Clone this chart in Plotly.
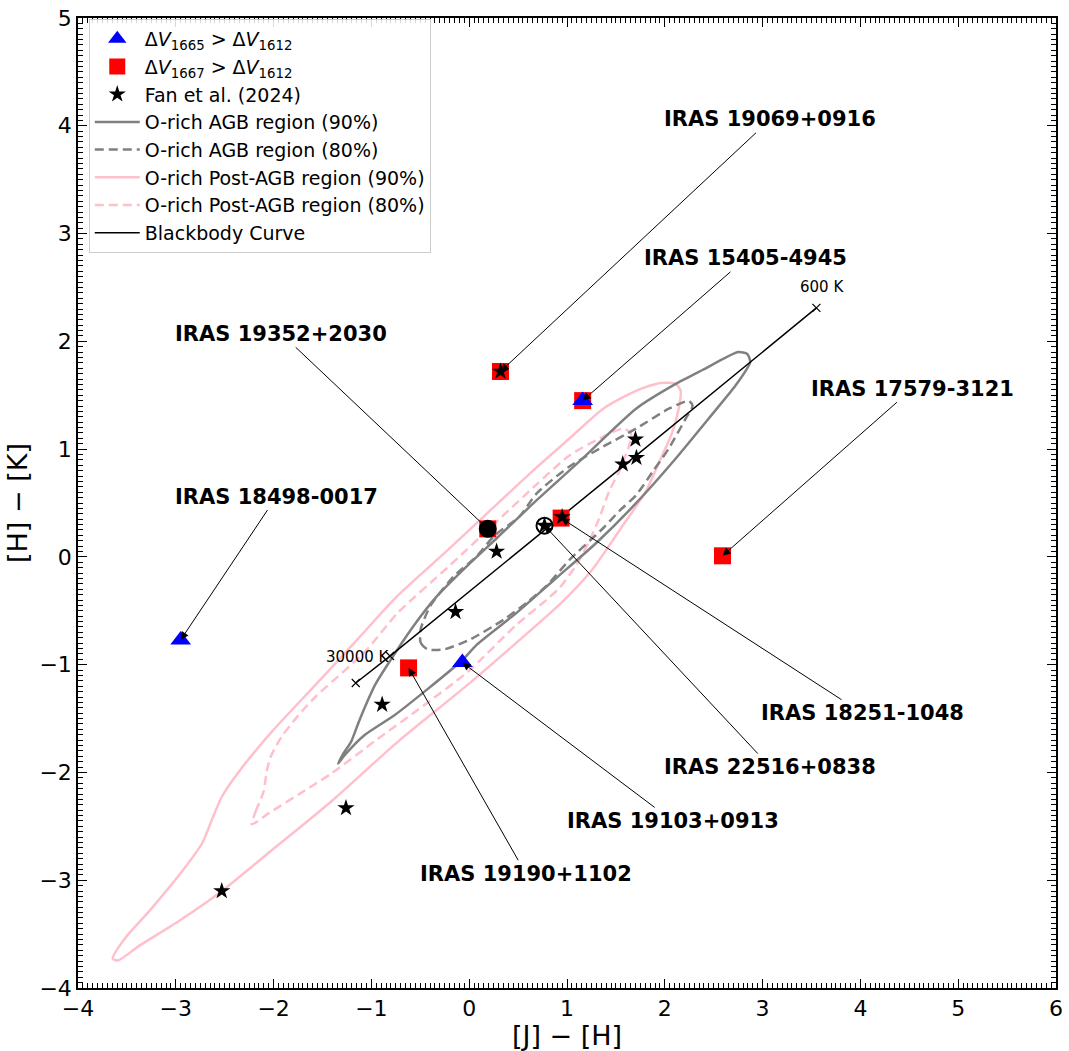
import plotly.graph_objects as go

# ---------------- data ----------------
tri_x = [-2.95, 1.16, -0.07]
tri_y = [-0.77, 1.45, -0.98]

sq_x = [0.32, 1.16, 2.59, -0.62, 0.94, 0.19]
sq_y = [1.72, 1.45, 0.01, -1.03, 0.36, 0.26]

star_x = [0.32, 1.70, 1.57, 1.71, 0.95, 0.77, 0.19, 0.28, -0.14, -0.89, -1.26, -2.53]
star_y = [1.72, 1.09, 0.86, 0.92, 0.37, 0.29, 0.26, 0.05, -0.51, -1.37, -2.33, -3.10]

filled_circle_x = [0.19]
filled_circle_y = [0.26]
open_circle_x = [0.77]
open_circle_y = [0.29]

# O-rich AGB region (90%)
agb90_x = [-1.340, -1.289, -1.208, -1.137, -1.066, -0.964, -0.832, -0.558, -0.325, -0.020,
           0.284, 0.690, 1.127, 1.706, 2.112, 2.386, 2.751, 2.843, 2.873, 2.721,
           2.447, 2.112, 1.706, 1.299, 0.893, 0.487, 0.081, -0.071, -0.426, -0.761,
           -1.066, -1.269, -1.340]
agb90_y = [-1.919, -1.827, -1.716, -1.550, -1.393, -1.190, -0.996, -0.627, -0.360, -0.083,
           0.175, 0.526, 0.886, 1.375, 1.605, 1.734, 1.900, 1.882, 1.808, 1.587,
           1.282, 0.913, 0.498, 0.129, -0.194, -0.517, -0.812, -0.959, -1.227, -1.467,
           -1.651, -1.836, -1.919]

# O-rich AGB region (80%)
agb80_x = [-0.497, -0.497, -0.426, -0.254, 0.010, 0.355, 0.589, 0.792, 1.025, 1.371,
           1.533, 1.706, 1.878, 2.041, 2.213, 2.284, 2.244, 2.041, 1.706, 1.371,
           1.025, 0.690, 0.518, 0.254, 0.081, -0.152, -0.396, -0.497]
agb80_y = [-0.673, -0.793, -0.858, -0.858, -0.766, -0.581, -0.424, -0.267, -0.028, 0.268,
           0.424, 0.572, 0.793, 1.006, 1.282, 1.402, 1.448, 1.375, 1.190, 1.024,
           0.839, 0.590, 0.378, 0.194, 0.009, -0.175, -0.452, -0.673]

# O-rich Post-AGB region (90%)
pagb90_x = [-3.645, -3.523, -3.269, -2.934, -2.731, -2.629, -2.528, -2.355, -2.020, -1.574,
            -1.137, -0.731, -0.223, 0.284, 0.690, 1.025, 1.371, 1.706, 1.959, 2.112,
            2.162, 2.142, 2.071, 1.959, 1.807, 1.553, 1.249, 0.944, 0.487, -0.020,
            -0.731, -1.411, -2.081, -2.528, -2.964, -3.371, -3.594, -3.645]
pagb90_y = [-3.727, -3.542, -3.284, -2.915, -2.657, -2.435, -2.223, -1.993, -1.624, -1.190,
            -0.760, -0.360, 0.060, 0.490, 0.830, 1.098, 1.375, 1.541, 1.614, 1.605,
            1.541, 1.375, 1.144, 0.913, 0.609, 0.268, -0.129, -0.424, -0.793, -1.190,
            -1.716, -2.269, -2.768, -3.100, -3.376, -3.607, -3.745, -3.727]

# O-rich Post-AGB region (80%)
pagb80_x = [-2.223, -2.183, -2.102, -2.071, -2.030, -1.919, -1.746, -1.574, -1.066, -0.731,
            -0.223, 0.284, 0.690, 1.025, 1.371, 1.574, 1.655, 1.635, 1.533, 1.431,
            1.330, 1.228, 1.096, 0.924, 0.792, 0.487, -0.020, -0.528, -0.934, -1.411,
            -1.746, -2.051, -2.223]
pagb80_y = [-2.482, -2.362, -2.177, -1.993, -1.854, -1.670, -1.470, -1.300, -0.880, -0.520,
            -0.100, 0.330, 0.673, 0.941, 1.116, 1.190, 1.144, 1.033, 0.793, 0.609,
            0.360, 0.148, -0.074, -0.286, -0.397, -0.627, -1.070, -1.421, -1.688, -2.011,
            -2.205, -2.380, -2.482]

# Blackbody curve
bb_x = [-1.16, -0.81, 0.95, 1.60, 3.55]
bb_y = [-1.17, -0.92, 0.38, 0.86, 2.31]
bb_mark_x = [-1.16, -0.81, 3.55]
bb_mark_y = [-1.17, -0.92, 2.31]
bb_labels = ["30000 K", "600 K"]
bb_label_x = [-0.80, 3.61]
bb_label_y = [-0.93, 2.50]

# annotations
ann_labels = ["IRAS 19069+0916", "IRAS 15405-4945", "IRAS 19352+2030", "IRAS 17579-3121",
              "IRAS 18498-0017", "IRAS 18251-1048", "IRAS 22516+0838", "IRAS 19103+0913",
              "IRAS 19190+1102"]
ann_px = [0.32, 1.16, 0.19, 2.59, -2.95, 0.94, 0.77, -0.07, -0.62]
ann_py = [1.72, 1.45, 0.26, 0.01, -0.77, 0.36, 0.29, -0.98, -1.03]
ann_tx = [3.08, 2.83, -1.92, 4.53, -1.97, 4.02, 3.08, 2.08, 0.58]
ann_ty = [4.06, 2.77, 2.07, 1.56, 0.56, -1.45, -1.95, -2.45, -2.94]

FONT = "DejaVu Sans"

fig = go.Figure()

# contours
fig.add_trace(go.Scatter(x=pagb90_x, y=pagb90_y, mode="lines", name="O-rich Post-AGB region (90%)",
                         line=dict(color="pink", width=2.5, shape="spline", smoothing=0.7), legendrank=6))
fig.add_trace(go.Scatter(x=pagb80_x, y=pagb80_y, mode="lines", name="O-rich Post-AGB region (80%)",
                         line=dict(color="pink", width=2.5, dash="9px,5px", shape="spline", smoothing=0.7),
                         legendrank=7))
fig.add_trace(go.Scatter(x=agb90_x, y=agb90_y, mode="lines", name="O-rich AGB region (90%)",
                         line=dict(color="gray", width=2.5, shape="spline", smoothing=0.6), legendrank=4))
fig.add_trace(go.Scatter(x=agb80_x, y=agb80_y, mode="lines", name="O-rich AGB region (80%)",
                         line=dict(color="gray", width=2.5, dash="9px,5px", shape="spline", smoothing=0.6),
                         legendrank=5))

# blackbody
fig.add_trace(go.Scatter(x=bb_x, y=bb_y, mode="lines", name="Blackbody Curve",
                         line=dict(color="black", width=1.5), legendrank=8))
fig.add_trace(go.Scatter(x=bb_mark_x, y=bb_mark_y, mode="markers", showlegend=False,
                         marker=dict(symbol="x-thin", size=8, line=dict(color="black", width=1.2))))

# points
fig.add_trace(go.Scatter(x=sq_x, y=sq_y, mode="markers",
                         name="Δ<i>V</i><sub>1667</sub> > Δ<i>V</i><sub>1612</sub>",
                         marker=dict(symbol="square", size=17, color="red"), legendrank=2))
fig.add_trace(go.Scatter(x=tri_x, y=tri_y, mode="markers",
                         name="Δ<i>V</i><sub>1665</sub> > Δ<i>V</i><sub>1612</sub>",
                         marker=dict(symbol="triangle-up", size=18, color="blue"), legendrank=1))
fig.add_trace(go.Scatter(x=star_x, y=star_y, mode="markers", name="Fan et al. (2024)",
                         marker=dict(symbol="star", size=13, color="black"), legendrank=3))
fig.add_trace(go.Scatter(x=filled_circle_x, y=filled_circle_y, mode="markers", showlegend=False,
                         marker=dict(symbol="circle", size=18, color="black")))
fig.add_trace(go.Scatter(x=open_circle_x, y=open_circle_y, mode="markers", showlegend=False,
                         marker=dict(symbol="circle-open", size=16, color="black",
                                     line=dict(color="black", width=2))))

annotations = []
for lab, tx, ty in zip(bb_labels, bb_label_x, bb_label_y):
    annotations.append(dict(x=tx, y=ty, xref="x", yref="y", text=lab, showarrow=False,
                            xanchor="right" if lab.startswith("3") else "center",
                            font=dict(family=FONT, size=15, color="black")))
for lab, px, py, tx, ty in zip(ann_labels, ann_px, ann_py, ann_tx, ann_ty):
    annotations.append(dict(x=px, y=py, xref="x", yref="y", ax=tx, ay=ty, axref="x", ayref="y",
                            text="<b>" + lab + "</b>", showarrow=True, arrowhead=2,
                            arrowsize=1.6, arrowwidth=1, arrowcolor="black",
                            font=dict(family=FONT, size=21, color="black")))

axis_common = dict(showline=True, linecolor="black", linewidth=1.5, mirror="allticks",
                   ticks="inside", ticklen=9, tickwidth=1.2, tickcolor="black",
                   showgrid=False, zeroline=False, dtick=1, ticklabeloverflow="allow",
                   tickfont=dict(family=FONT, size=22, color="black"),
                   minor=dict(ticks="inside", ticklen=5, tickwidth=1, tickcolor="black",
                              dtick=0.05, showgrid=False))

fig.update_layout(
    width=1069, height=1051,
    margin=dict(l=78, r=6, t=12, b=63),
    plot_bgcolor="white", paper_bgcolor="white",
    font=dict(family=FONT, color="black"),
    xaxis=dict(range=[-4, 6], title=dict(text="[J] − [H]", font=dict(family=FONT, size=27), standoff=4),
               **axis_common),
    yaxis=dict(range=[-4, 5], title=dict(text="[H] − [K]", font=dict(family=FONT, size=27), standoff=4),
               **axis_common),
    legend=dict(x=0.011, y=0.999, xanchor="left", yanchor="top",
                bgcolor="rgba(255,255,255,0.85)", bordercolor="#cccccc", borderwidth=1,
                font=dict(family=FONT, size=19, color="black"), tracegroupgap=0, itemwidth=45),
    annotations=annotations,
    showlegend=True,
)

fig.write_html("out.html")
